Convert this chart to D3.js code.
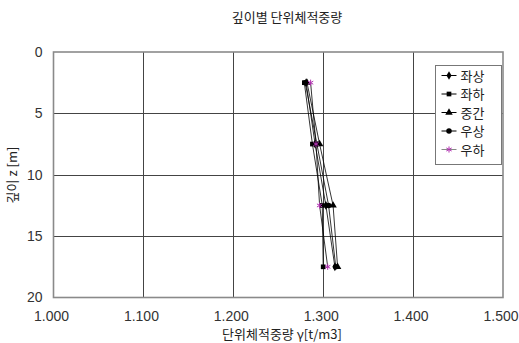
<!DOCTYPE html>
<html>
<head>
<meta charset="utf-8">
<script src="https://cdn.jsdelivr.net/npm/d3@7"></script>
<style>
  html, body { margin: 0; padding: 0; background: #fff; }
  svg { display: block; font-family: "Noto Sans CJK KR", "DejaVu Sans", sans-serif; }
</style>
</head>
<body>
<svg id="chart" width="519" height="343"></svg>
<script>
// Depths (m) at which unit weight was measured
const depths = [2.5, 7.5, 12.5, 17.5];

// Unit weight γ (t/m3) per sampling location
const seriesNames = ["좌상", "좌하", "중간", "우상", "우하"];
const jwasang = [1.281, 1.291, 1.303, 1.313];
const jwaha   = [1.279, 1.288, 1.299, 1.300];
const junggan = [1.282, 1.296, 1.311, 1.316];
const usang   = [1.280, 1.293, 1.306, 1.314];
const uha     = [1.286, 1.292, 1.296, 1.305];

const xTicks = [1.0, 1.1, 1.2, 1.3, 1.4, 1.5];
const yTicks = [0, 5, 10, 15, 20];

const series = [
  { name: seriesNames[0], values: jwasang, symbol: d3.symbolDiamond, size: 22, color: "#000", stroke: false },
  { name: seriesNames[1], values: jwaha,   symbol: d3.symbolSquare,  size: 22, color: "#000", stroke: false },
  { name: seriesNames[2], values: junggan, symbol: d3.symbolTriangle, size: 24, color: "#000", stroke: false },
  { name: seriesNames[3], values: usang,   symbol: d3.symbolCircle,  size: 24, color: "#000", stroke: false },
  { name: seriesNames[4], values: uha,     symbol: d3.symbolAsterisk, size: 26, color: "#b030b0", stroke: true }
];

const svg = d3.select("#chart");
const plot = { left: 53.5, top: 52, right: 503, bottom: 297.5 };

const x = d3.scaleLinear().domain([1.0, 1.5]).range([plot.left, plot.right]);
const y = d3.scaleLinear().domain([0, 20]).range([plot.top, plot.bottom]);

// Title
svg.append("text")
  .attr("x", 287).attr("y", 22)
  .attr("text-anchor", "middle")
  .attr("font-size", 13)
  .attr("fill", "#222")
  .text("깊이별 단위체적중량");

// Gridlines
const grid = svg.append("g");
grid.selectAll("line.vx")
  .data(xTicks.slice(1, -1))
  .join("line")
  .attr("x1", d => Math.round(x(d)) + 0.5).attr("x2", d => Math.round(x(d)) + 0.5)
  .attr("y1", plot.top).attr("y2", plot.bottom)
  .attr("stroke", "#444").attr("stroke-width", 1);
grid.selectAll("line.hy")
  .data(yTicks.slice(1, -1))
  .join("line")
  .attr("y1", d => Math.round(y(d)) + 0.5).attr("y2", d => Math.round(y(d)) + 0.5)
  .attr("x1", plot.left).attr("x2", plot.right)
  .attr("stroke", "#444").attr("stroke-width", 1);

// Plot frame
svg.append("rect")
  .attr("x", plot.left).attr("y", plot.top)
  .attr("width", plot.right - plot.left).attr("height", plot.bottom - plot.top)
  .attr("fill", "none").attr("stroke", "#8a8a8a").attr("stroke-width", 1.6);

// Axes (tick labels only)
const xAxis = d3.axisBottom(x).tickValues(xTicks).tickFormat(d3.format(".3f")).tickSize(0).tickPadding(14);
svg.append("g")
  .attr("transform", `translate(0,${plot.bottom})`)
  .call(xAxis)
  .call(g => g.select(".domain").remove())
  .selectAll("text")
  .attr("dx", -2.5)
  .attr("font-size", 14).attr("fill", "#333")
  .attr("font-family", "'Liberation Sans', Arial, sans-serif");

const yAxis = d3.axisLeft(y).tickValues(yTicks).tickSize(0).tickPadding(11);
svg.append("g")
  .attr("transform", `translate(${plot.left},0)`)
  .call(yAxis)
  .call(g => g.select(".domain").remove())
  .selectAll("text")
  .attr("font-size", 14).attr("fill", "#333")
  .attr("font-family", "'Liberation Sans', Arial, sans-serif");

// Axis titles
svg.append("text")
  .attr("x", 282).attr("y", 339)
  .attr("text-anchor", "middle")
  .attr("font-size", 13)
  .attr("fill", "#222")
  .text("단위체적중량 γ[t/m3]");

svg.append("text")
  .attr("transform", "translate(17,175) rotate(-90)")
  .attr("text-anchor", "middle")
  .attr("font-size", 13)
  .attr("fill", "#222")
  .text("깊이 z [m]");

// Profiles
const line = d3.line().x(d => x(d[0])).y(d => y(d[1]));
const gSeries = svg.append("g");
series.forEach(s => {
  const pts = s.values.map((v, i) => [v, depths[i]]);
  gSeries.append("path")
    .attr("d", line(pts))
    .attr("fill", "none").attr("stroke", "#000").attr("stroke-width", 0.8);
});
series.forEach(s => {
  const pts = s.values.map((v, i) => [v, depths[i]]);
  const sym = d3.symbol().type(s.symbol).size(s.size);
  gSeries.selectAll(null)
    .data(pts)
    .join("path")
    .attr("transform", d => `translate(${x(d[0])},${y(d[1])})`)
    .attr("d", sym)
    .attr("fill", s.stroke ? "none" : s.color)
    .attr("stroke", s.stroke ? s.color : "none")
    .attr("stroke-width", 1);
});

// Legend
const legend = svg.append("g").attr("transform", "translate(435.5,65.5)");
legend.append("rect")
  .attr("width", 66).attr("height", 99)
  .attr("fill", "#fff").attr("stroke", "#777").attr("stroke-width", 1);
series.forEach((s, i) => {
  const row = legend.append("g").attr("transform", `translate(0,${10 + i * 18.5})`);
  row.append("line")
    .attr("x1", 6).attr("x2", 21).attr("y1", 0).attr("y2", 0)
    .attr("stroke", s.stroke ? "#888" : "#000").attr("stroke-width", 1);
  row.append("path")
    .attr("transform", "translate(13.5,0)")
    .attr("d", d3.symbol().type(s.symbol).size(s.size)())
    .attr("fill", s.stroke ? "none" : s.color)
    .attr("stroke", s.stroke ? s.color : "none");
  row.append("text")
    .attr("x", 25).attr("y", 5)
    .attr("font-size", 13).attr("fill", "#222")
    .text(s.name);
});
</script>
</body>
</html>
